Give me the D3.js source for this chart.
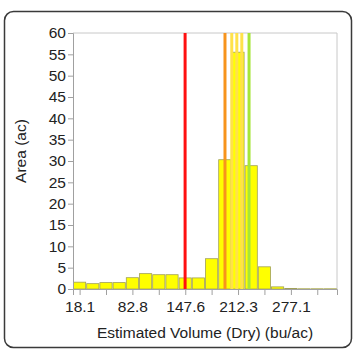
<!DOCTYPE html>
<html><head><meta charset="utf-8">
<script src="https://cdn.jsdelivr.net/npm/d3@7"></script>
<style>
html,body{margin:0;padding:0;background:#fff;}
svg{display:block;font-family:"Liberation Sans",Arial,sans-serif;}
</style></head>
<body>
<svg id="chart" width="356" height="354"></svg>
<script>
// Data
const binStart = 10.0;
const binWidth = 16.18;
const areaValues = [1.6, 1.25, 1.5, 1.5, 2.65, 3.6, 3.35, 3.35, 2.6, 2.6, 7.1, 30.3, 55.5, 28.9, 5.2, 0.5, 0.12, 0.05, 0.05, 0.05];
const tickValues = [18.1, 50.45, 82.8, 115.15, 147.6, 179.9, 212.3, 244.65, 277.1, 309.4];
const tickLabels = ["18.1", "", "82.8", "", "147.6", "", "212.3", "", "277.1", ""];
const yTicks = [0,5,10,15,20,25,30,35,40,45,50,55,60];
const refLines = [
  {value: 147.4, color: "#ff1010"},
  {value: 196.3, color: "#f7941d"},
  {value: 204.6, color: "#ffe24a"},
  {value: 210.8, color: "#ffe24a"},
  {value: 216.9, color: "#ffe24a"},
  {value: 225.8, color: "#a6e53a"}
];
const xTitle = "Estimated Volume (Dry) (bu/ac)";
const yTitle = "Area (ac)";

const svg = d3.select("#chart");
// frame
svg.append("rect").attr("x",4.5).attr("y",11.5).attr("width",347).attr("height",336)
  .attr("rx",9).attr("fill","#fff").attr("stroke","#3a3a3a").attr("stroke-width",1.5);

const L=73, R=337, T=33, B=289;
const x = d3.scaleLinear().domain([binStart, binStart + binWidth*areaValues.length]).range([L,R]);
const y = d3.scaleLinear().domain([0,60]).range([B,T]);

// plot frame lines (top & right)
svg.append("line").attr("x1",L).attr("x2",R).attr("y1",T).attr("y2",T).attr("stroke","#c8c8c8");
svg.append("line").attr("x1",R).attr("x2",R).attr("y1",T).attr("y2",B).attr("stroke","#c8c8c8");

// bars
svg.append("g").selectAll("rect").data(areaValues).join("rect")
  .attr("x",(d,i)=>x(binStart+i*binWidth)+0.5)
  .attr("width",(d,i)=>x(binStart+(i+1)*binWidth)-x(binStart+i*binWidth)-1)
  .attr("y",d=>y(d))
  .attr("height",d=>B-y(d))
  .attr("fill","#ffff00")
  .attr("stroke","#a0a058").attr("stroke-width",0.8);

// reference lines
svg.append("g").selectAll("line").data(refLines).join("line")
  .attr("x1",d=>x(d.value)).attr("x2",d=>x(d.value))
  .attr("y1",T).attr("y2",B)
  .attr("stroke",d=>d.color).attr("stroke-width",3);

// axes
const yAxis = svg.append("g").attr("transform",`translate(${L},0)`)
  .call(d3.axisLeft(y).tickValues(yTicks).tickSize(5).tickPadding(2));
const xAxis = svg.append("g").attr("transform",`translate(0,${B})`)
  .call(d3.axisBottom(x).tickValues(tickValues).tickSize(6).tickPadding(6)
    .tickFormat((d,i)=>tickLabels[i]));
[xAxis,yAxis].forEach(g=>{
  g.select(".domain").attr("stroke","#a0a0a0");
  g.selectAll(".tick line").attr("stroke","#a0a0a0");
  g.selectAll(".tick text").attr("fill","#222").style("font-size","15.5px")
    .style("font-family","'Liberation Sans',Arial,sans-serif");
});

// titles
svg.append("text").attr("x",205).attr("y",338).attr("text-anchor","middle")
  .attr("fill","#222").style("font-size","15.5px").text(xTitle);
svg.append("text").attr("transform","translate(26,151) rotate(-90)").attr("text-anchor","middle")
  .attr("fill","#222").style("font-size","15.5px").text(yTitle);
</script>
</body></html>
